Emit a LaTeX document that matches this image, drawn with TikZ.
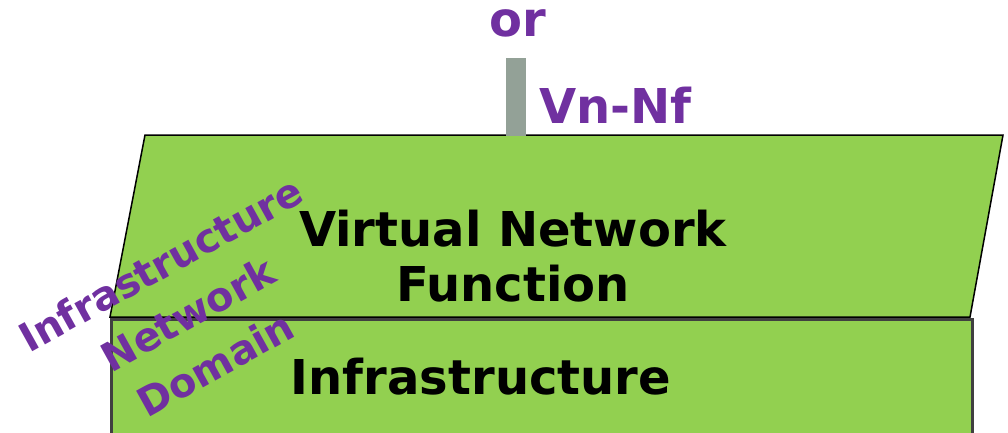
\documentclass[tikz,border=0pt]{standalone}
\usepackage{fontspec}
\setmainfont{DejaVu Sans}
\definecolor{lgreen}{HTML}{92D050}
\definecolor{vpurple}{HTML}{7030A0}
\definecolor{bargrey}{HTML}{93A197}
\definecolor{dgrey}{HTML}{404040}
\tikzset{
  purpletext/.style={text=vpurple, font=\bfseries\fontsize{48}{58}\selectfont, inner sep=0pt},
  blacktext/.style={text=black, font=\bfseries\fontsize{48}{58}\selectfont, inner sep=0pt, anchor=base},
  domaintext/.style={text=vpurple, font=\bfseries\fontsize{40}{57}\selectfont, align=center, inner sep=0pt, rotate=29},
}
\begin{document}
\begin{tikzpicture}[x=1pt,y=-1pt]
\useasboundingbox (0,0) rectangle (1008,433);
\begin{scope}
\clip (0,0) rectangle (1008,433);
% infrastructure box
\draw[fill=lgreen, draw=dgrey, line width=3pt] (111,319) rectangle (972,445);
% VNF parallelogram
\draw[fill=lgreen, draw=black, line width=1.5pt, line join=miter] (145,135) -- (1003,135) -- (970,317) -- (110,317) -- cycle;
\end{scope}
% grey bar
\fill[bargrey] (506,58) rectangle (526,135.5);
\node[purpletext, anchor=base] (or) at (518,37) {or};
\node[purpletext, anchor=base west] (vnnf) at (539,123) {Vn-Nf};
\node[blacktext] (vnf1) at (513,246) {Virtual Network};
\node[blacktext] (vnf2) at (513,301) {Function};
\node[blacktext] (infra) at (481,394) {Infrastructure};
\node[domaintext] (ind) at (188,314) {Infrastructure\\Network\\Domain};
\end{tikzpicture}
\end{document}
